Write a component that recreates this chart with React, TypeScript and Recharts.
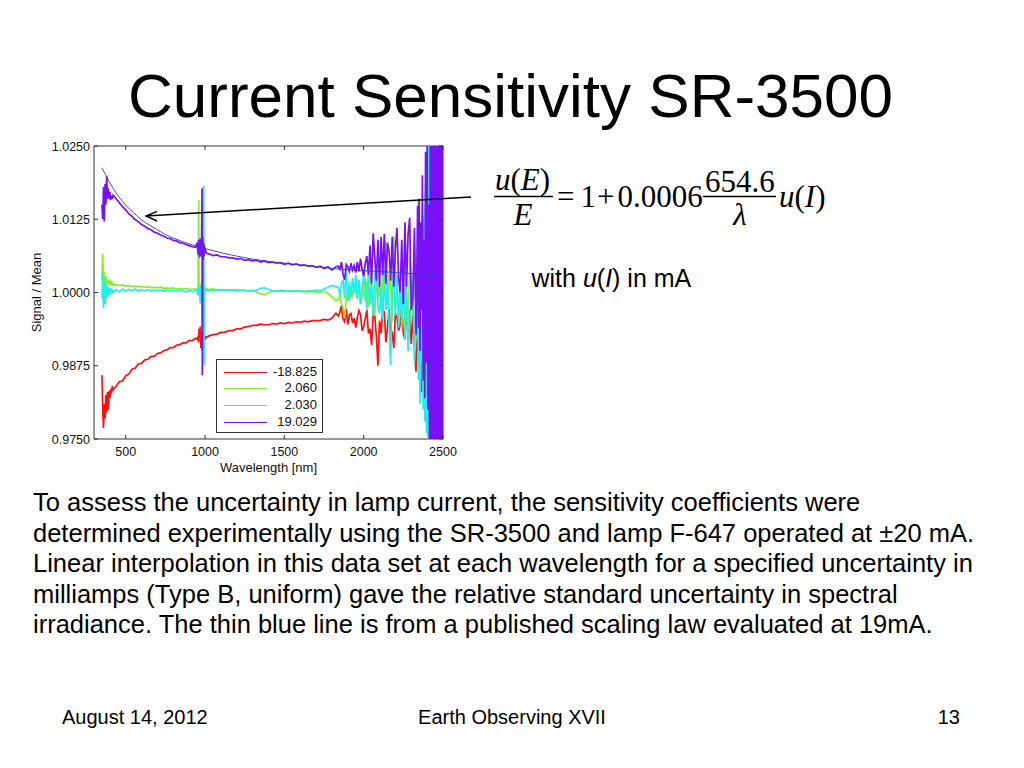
import React from "react";
import { LineChart, Line, XAxis, YAxis, ReferenceArea, Legend } from "recharts";

// wavelength grid, nm
const WAVELENGTH = [
  350, 355, 360, 365, 370, 375, 380, 385, 390, 395, 400, 405, 410, 415, 420,
  440, 460, 480, 500, 520, 540, 560, 580, 600, 620, 640, 660, 680, 700, 720, 740, 760, 780, 800, 820, 840, 860, 880, 900, 920, 940,
  950, 956, 960, 962, 966, 970, 974, 978, 981, 983, 985, 988, 991, 994, 996, 999, 1003, 1008,
  1025, 1050, 1075, 1100, 1125, 1150, 1175, 1200, 1225, 1250, 1275, 1300, 1325, 1350, 1375, 1400, 1425,
  1450, 1475, 1500, 1525, 1550, 1575, 1600, 1625, 1650, 1675, 1700, 1725, 1750, 1775, 1800, 1825,
  1840, 1850, 1860, 1870, 1880, 1890, 1900, 1910, 1920, 1930,
  1940, 1950, 1960, 1970, 1980, 1990, 2000, 2010, 2020, 2030,
  2040, 2050, 2060, 2070, 2080, 2090, 2100, 2110, 2120, 2130,
  2140, 2150, 2160, 2170, 2180, 2190, 2200, 2210, 2220, 2230,
  2240, 2250, 2260, 2270, 2280, 2290, 2300, 2310, 2320, 2330,
  2340,
  2345, 2350, 2355, 2360, 2365, 2370, 2375, 2380, 2385, 2390,
  2395, 2400, 2405, 2410, 2415, 2420, 2425, 2430, 2435, 2440,
  2445, 2450, 2455, 2460, 2465, 2470, 2475, 2480, 2485, 2490,
  2495, 2500,
];

// (Signal / Mean - 1) in units of 1e-4
const DEV_M18825 = [
  -141, -200, -231, -190, -215, -175, -205, -170, -200, -168, -180, -165, -172, -160, -166,
  -160, -152, -151, -142, -139, -131, -129, -122, -121, -115, -114, -109, -109, -104, -103, -99, -98, -94, -94, -90, -89, -86, -86, -82, -82, -78,
  -80, -75, -85, -62, -78, -58, -95, -66, -75, -100, -35, -70, -82, -68, -78, -74, -80, -76,
  -74, -72, -71, -68, -68, -65, -65, -62, -62, -59, -58, -56, -56, -54, -55, -55, -53,
  -54, -52, -53, -51, -52, -50, -51, -49, -50, -48, -48, -48, -46, -47, -44, -35,
  -40, -34, -22, -45, -50, -28, -55, -38, -36, -52,
  -44, -60, -42, -31, -38, -65, -58, -45, -30, -70,
  -62, -90, -35, -40, -75, -125, -48, -70, -30, -33,
  -85, -60, -28, -75, -70, -95, -35, -42, -65, -55,
  -25, -70, -80, -35, -60, -30, -88, -40, -95, -135,
  -60,
  -100, -70, -150, -80, -170, -90, -120, -60, -180, -40,
  -200, 0, -220, 60, -240, 150, -260, 260, -280, 270,
  -260, 280, -300, 260, -280, 270, -250, 200, -200, 150,
  -150, 100,
];

const DEV_2060 = [
  20, 66, 10, 35, 5, 28, 12, 22, 14, 20, 15, 19, 14, 17, 13,
  13, 12, 13, 11, 12, 10, 11, 10, 10, 9, 10, 8, 9, 8, 9, 7, 8, 7, 8, 6, 7, 6, 7, 5, 6, 6,
  5, 8, 158, 4, 10, -20, 15, 0, 20, -30, -50, 10, 0, 8, 3, 6, 4, 6,
  5, 6, 4, 5, 4, 5, 4, 5, 3, 4, 3, 4, 1, -2, -4, -1, 2,
  3, 2, 3, 2, 3, 2, 3, 2, 1, 2, 1, 0, 2, -1, -8, -14,
  -12, -5, -20, -26, -44, -10, 5, -15, 10, -8,
  15, 2, -10, 20, -20, 10, 25, -15, 20, -25,
  30, 15, -20, -40, 35, -10, 20, -30, 45, 0,
  87, -20, 30, 12, -50, 96, 40, -10, -30, 20,
  -60, 40, 55, -20, -70, 60, 30, -40, 70, -50,
  -80,
  158, -60, 100, -120, 80, -150, 120, -180, 150, -200,
  60, -220, 200, -160, 250, -240, 180, -250, 260, -260,
  150, -270, 270, -280, 240, -260, 200, -230, 180, -200,
  120, -100,
];

const DEV_2030 = [
  -10, 33, -27, 20, -20, 12, -10, 10, -6, 8, -4, 7, -2, 6, 0,
  5, 1, 6, 2, 5, 3, 6, 2, 5, 3, 5, 2, 4, 3, 5, 2, 4, 3, 4, 2, 4, 3, 1, 3, 1, 4,
  3, -5, 8, 2, 10, -15, 12, -10, 15, -20, 25, -10, 182, -124, 10, 2, 5, 3,
  4, 3, 5, 3, 4, 3, 5, 2, 4, 3, 2, 3, 4, 7, 8, 5, 3,
  2, 4, 2, 3, 2, 3, 2, 1, 3, 2, 4, 3, 6, 9, 12, 10,
  8, -5, 15, 22, -10, 41, -15, 20, -8, 25,
  0, 30, -12, 22, -20, -5, 35, 20, -30, 40,
  -20, 15, -40, 30, 45, -25, -35, 10, -45, 35,
  -30, 20, -55, -124, 25, 15, -40, 30, -60, 10,
  -45, 34, -80, 20, -100, -60, 0, 25, -120, -10,
  30,
  -150, 50, -190, 80, -120, 100, -200, 130, -220, 180,
  -240, 220, -260, 260, -280, 250, -290, 270, -260, 280,
  -300, 260, -270, 280, -250, 260, -280, 270, -260, 300,
  -280, 280,
];

const DEV_19029 = [
  150, 125, 180, 121, 185, 150, 199, 160, 178, 160, 172, 158, 165, 160, 166,
  160, 153, 146, 141, 134, 130, 124, 121, 116, 113, 109, 107, 103, 101, 98, 96, 93, 92, 89, 88, 85, 84, 82, 80, 78, 77,
  85, 65, 90, 70, 60, 92, 62, 88, 178, -141, 95, 55, 85, 62, 80, 68, 72, 67,
  66, 63, 64, 61, 61, 59, 59, 57, 58, 55, 56, 54, 55, 52, 54, 51, 52,
  50, 51, 48, 50, 47, 49, 46, 47, 45, 46, 43, 45, 41, 44, 38, 44,
  45, 40, 52, 30, 22, 48, 44, 36, 50, 38,
  46, 34, 52, 36, 58, 40, 28, 50, 62, 30,
  80, 15, 101, 60, 20, 90, 10, 95, 30, 100,
  15, 85, 70, 20, 95, 10, 75, 110, 25, 0,
  90, -20, 120, 10, 100, 127, -30, -10, 110, -72,
  148,
  -60, 160, -100, 120, -30, 200, -150, 90, -180, 240,
  -120, 260, -200, 150, -250, 280, -270, 280, -280, 290,
  -290, 300, -300, 300, -300, 300, -300, 300, -300, 300,
  -300, 300,
];

// published scaling law at 19 mA, same units
const LAW_WAVELENGTH = [350, 400, 450, 500, 550, 600, 650, 700, 750, 800, 900, 1000, 1100, 1200, 1300, 1400, 1500, 1600, 1700, 1800, 1900, 2000, 2100, 2200, 2300, 2400, 2500];
const LAW_DEV = [213, 187, 166, 149, 136, 124, 115, 107, 99, 93, 83, 75, 68, 62, 57, 53, 50, 47, 44, 41, 39, 37, 36, 34, 32, 31, 30];

const X_TICKS = [500, 1000, 1500, 2000, 2500];
const Y_TICKS = [0.975, 0.9875, 1.0, 1.0125, 1.025];

const SERIES = [
  { key: "a", name: "-18.825", color: "#ff1010", dev: DEV_M18825 },
  { key: "b", name: "2.060", color: "#88ee2a", dev: DEV_2060 },
  { key: "c", name: "2.030", color: "#22eeee", dev: DEV_2030 },
  { key: "d", name: "19.029", color: "#7a10f5", dev: DEV_19029 },
];
const SERIES_NAMES = SERIES.map((s) => s.name);

const rows = WAVELENGTH.map((wl, i) => {
  const r: any = { wl };
  SERIES.forEach((s) => {
    r[s.key] = 1 + s.dev[i] / 1e4;
  });
  return r;
});
const lawRows = LAW_WAVELENGTH.map((wl, i) => ({ wl, law: 1 + LAW_DEV[i] / 1e4 }));

const FONT = '"Liberation Sans", Arial, Helvetica, sans-serif';
const SERIF = '"Liberation Serif", "Times New Roman", serif';
const AXIS = "#333";
const INK = "#111";
const PLOT = { left: 94, right: 443, top: 146, bottom: 439 };

function XTick(props: any) {
  const { x, payload } = props;
  return (
    <g>
      <line x1={x} x2={x} y1={PLOT.bottom} y2={PLOT.bottom - 4} stroke={AXIS} />
      <line x1={x} x2={x} y1={PLOT.top} y2={PLOT.top + 4} stroke={AXIS} />
      <text x={x} y={455.5} textAnchor="middle" fontSize={12.5} fontFamily={FONT} fill={INK}>
        {payload.value}
      </text>
    </g>
  );
}

function YTick(props: any) {
  const { y, payload } = props;
  return (
    <g>
      <line x1={PLOT.left} x2={PLOT.left + 4} y1={y} y2={y} stroke={AXIS} />
      <line x1={PLOT.right} x2={PLOT.right - 4} y1={y} y2={y} stroke={AXIS} />
      <text x={90} y={y + 4.5} textAnchor="end" fontSize={12.5} fontFamily={FONT} fill={INK}>
        {Number(payload.value).toFixed(4)}
      </text>
    </g>
  );
}

function LegendBox(props: any) {
  const items = (props.payload || [])
    .filter((p: any) => p.type !== "none")
    .slice()
    .sort((a: any, b: any) => SERIES_NAMES.indexOf(a.value) - SERIES_NAMES.indexOf(b.value));
  return (
    <div
      style={{
        width: 107,
        height: 74,
        border: `1px solid ${AXIS}`,
        background: "#fff",
        position: "relative",
        boxSizing: "border-box",
        fontFamily: FONT,
      }}
    >
      {items.map((p: any, i: number) => (
        <div key={i} style={{ position: "absolute", left: 0, right: 0, top: 3.5 + i * 16.7, height: 16.7 }}>
          <div style={{ position: "absolute", left: 7, width: 43, top: 8, borderTop: `1.5px solid ${p.color}` }} />
          <span style={{ position: "absolute", right: 5, top: 0, fontSize: 13, lineHeight: "16.7px", color: INK }}>
            {p.value}
          </span>
        </div>
      ))}
    </div>
  );
}

const bodyLines = [
  "To assess the uncertainty in lamp current, the sensitivity coefficients were",
  "determined experimentally using the SR-3500 and lamp F-647 operated at \u00b120 mA.",
  "Linear interpolation in this data set at each wavelength for a specified uncertainty in",
  "milliamps (Type B, uniform) gave the relative standard uncertainty in spectral",
  "irradiance. The thin blue line is from a published scaling law evaluated at 19mA.",
];

export default function App() {
  return (
    <div style={{ position: "absolute", left: 0, top: 0, width: 1024, height: 768, background: "#fff", fontFamily: FONT, color: "#000", overflow: "hidden" }}>
      <div style={{ position: "absolute", left: 0, width: 1021, top: 64.5, textAlign: "center", fontSize: 62, lineHeight: "62px", whiteSpace: "nowrap" }}>
        Current Sensitivity SR-3500
      </div>

      <div style={{ position: "absolute", left: 0, top: 0 }}>
        <LineChart width={460} height={480} data={rows} margin={{ top: 146, right: 17, bottom: 11, left: 44 }}>
          <XAxis
            dataKey="wl"
            type="number"
            domain={[300, 2500]}
            allowDataOverflow
            ticks={X_TICKS}
            interval={0}
            height={30}
            tickLine={false}
            axisLine={false}
            tick={<XTick />}
            label={{ value: "Wavelength [nm]", position: "insideBottom", offset: -3, style: { fontSize: 13, fontFamily: FONT, fill: INK } }}
          />
          <YAxis
            type="number"
            domain={[0.975, 1.025]}
            allowDataOverflow
            ticks={Y_TICKS}
            interval={0}
            width={50}
            tickLine={false}
            axisLine={false}
            tick={<YTick />}
            label={{ value: "Signal / Mean", angle: -90, position: "insideLeft", offset: -8, style: { fontSize: 13, fontFamily: FONT, fill: INK, textAnchor: "middle" } }}
          />
          <ReferenceArea x1={300} x2={2500} y1={0.975} y2={1.025} fill="none" stroke={AXIS} strokeWidth={1} />
          {SERIES.map((s) => (
            <Line
              key={s.key}
              dataKey={s.key}
              name={s.name}
              type="linear"
              stroke={s.color}
              strokeWidth={1.7}
              strokeLinejoin="miter"
              dot={false}
              activeDot={false}
              isAnimationActive={false}
            />
          ))}
          <Line
            data={lawRows}
            dataKey="law"
            type="monotone"
            stroke="#3535d0"
            strokeWidth={0.9}
            dot={false}
            activeDot={false}
            legendType="none"
            isAnimationActive={false}
          />
          <Legend
            layout="vertical"
            align="center"
            verticalAlign="middle"
            content={<LegendBox />}
            wrapperStyle={{ left: 216, top: 359, width: 107, height: 74 }}
          />
        </LineChart>
      </div>

      <svg width={1024} height={768} style={{ position: "absolute", left: 0, top: 0, pointerEvents: "none" }}>
        <line x1={471} y1={197} x2={146} y2={216} stroke="#000" strokeWidth={1.4} />
        <polyline points="157,211.3 146,216 157,221" fill="none" stroke="#000" strokeWidth={1.4} />
        <g fontFamily={SERIF} fontSize={31} fill="#000">
          <text x={495} y={190}>
            <tspan fontStyle="italic">u</tspan>(<tspan fontStyle="italic">E</tspan>)
          </text>
          <line x1={494} x2={553} y1={196.5} y2={196.5} stroke="#000" strokeWidth={1.3} />
          <text x={523} y={225} textAnchor="middle" fontStyle="italic">E</text>
          <text x={557} y={206.7}>
            =<tspan dx={6}>1</tspan>
            <tspan dx={1}>+</tspan>
            <tspan dx={3}>0.0006</tspan>
          </text>
          <text x={705} y={191.7}>654.6</text>
          <line x1={703} x2={776} y1={196.5} y2={196.5} stroke="#000" strokeWidth={1.3} />
          <text x={740} y={225} textAnchor="middle" fontStyle="italic">λ</text>
          <text x={779} y={206.7}>
            <tspan fontStyle="italic">u</tspan>(<tspan fontStyle="italic">I</tspan>)
          </text>
        </g>
      </svg>

      <div style={{ position: "absolute", left: 531.5, top: 265.5, fontSize: 25, lineHeight: "25px", whiteSpace: "nowrap" }}>
        with <i>u</i>(<i>I</i>) in mA
      </div>

      <div style={{ position: "absolute", left: 33, top: 487, fontSize: 25.5, lineHeight: "30.5px", whiteSpace: "nowrap" }}>
        {bodyLines.map((t, i) => (
          <div key={i}>{t}</div>
        ))}
      </div>

      <div style={{ position: "absolute", left: 62, top: 707, fontSize: 20, lineHeight: "20px", whiteSpace: "nowrap" }}>
        August 14, 2012
      </div>
      <div style={{ position: "absolute", left: 0, width: 1024, top: 707, textAlign: "center", fontSize: 20, lineHeight: "20px", whiteSpace: "nowrap" }}>
        Earth Observing XVII
      </div>
      <div style={{ position: "absolute", right: 64, top: 707, fontSize: 20, lineHeight: "20px", whiteSpace: "nowrap" }}>
        13
      </div>
    </div>
  );
}
